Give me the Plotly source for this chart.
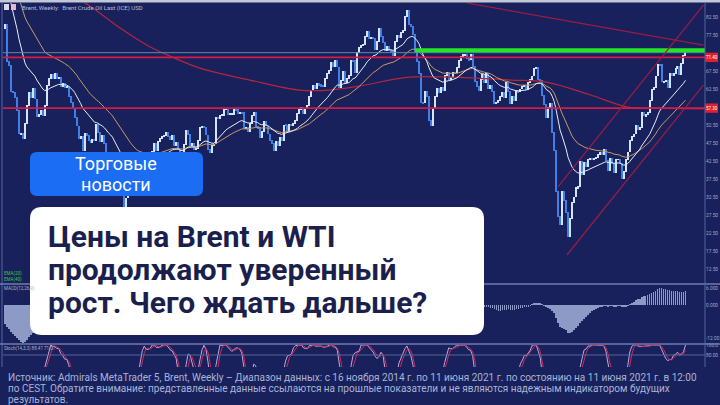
import plotly.graph_objects as go
import pandas as pd
import numpy as np

W, H = 720, 405
BG = "#18215c"

# ---- data: Brent weekly closes (USD) ----
# warm-up weeks (May-Nov 2014), used only for the indicators
pre_close = [108.0, 109.8, 110.5, 109.4, 108.6, 113.4, 114.8, 113.3, 110.6, 106.7,
             107.2, 108.4, 105.0, 105.0, 103.5, 102.3, 103.2, 100.8, 97.1, 98.4,
             97.0, 92.3, 90.2, 86.2, 86.1, 85.9, 83.4, 79.4]

close_2014 = [80.4, 70.2, 69.1, 61.9, 61.4, 60.2, 56.4]
close_2015 = [50.1, 50.2, 48.8, 53.0, 57.8, 61.5, 60.2, 62.6, 59.7, 54.7,
              55.3, 56.4, 55.0, 57.9, 63.5, 65.3, 66.5, 65.4, 66.8, 65.4,
              65.6, 63.3, 63.9, 63.0, 63.3, 60.3, 58.7, 57.1, 54.6, 52.2,
              48.6, 49.2, 45.5, 50.1, 49.6, 48.1, 47.5, 48.6, 48.1, 52.7,
              50.5, 48.0, 49.6, 47.4, 43.6, 44.7, 44.9, 43.0, 37.9, 36.9,
              38.1, 37.3]
close_2016 = [33.6, 28.9, 32.2, 34.7, 34.1, 33.4, 33.0, 35.1, 38.7, 40.4,
              41.2, 40.4, 38.7, 41.9, 43.1, 45.1, 47.4, 45.4, 47.8, 48.7,
              49.3, 49.6, 50.5, 49.2, 48.4, 49.7, 46.8, 47.6, 45.7, 42.5,
              44.3, 47.0, 50.9, 49.9, 46.8, 47.5, 45.8, 45.9, 48.2, 51.9,
              52.0, 51.8, 49.7, 45.6, 44.8, 46.9, 47.2, 54.5, 54.3, 55.2,
              55.2, 56.8]
close_2017 = [57.1, 55.5, 55.5, 55.5, 56.8, 56.7, 55.8, 56.0, 55.9, 51.4,
              51.8, 50.8, 52.8, 55.2, 55.9, 52.0, 51.7, 49.1, 50.8, 53.6,
              52.2, 50.0, 48.2, 47.4, 45.5, 47.9, 46.7, 48.9, 48.1, 52.5,
              52.4, 50.7, 52.7, 52.4, 52.8, 53.8, 55.6, 56.9, 57.5, 55.6,
              57.2, 57.8, 60.4, 62.1, 63.5, 62.7, 63.9, 63.7, 63.4, 63.2,
              65.3, 66.9]
close_2018 = [67.6, 69.9, 68.6, 70.5, 68.6, 62.8, 64.8, 67.3, 64.4, 65.5,
              66.2, 70.5, 70.3, 67.1, 72.6, 74.1, 74.6, 74.9, 77.1, 78.5,
              76.4, 76.8, 76.5, 73.4, 75.6, 79.4, 77.1, 75.3, 73.1, 74.3,
              73.2, 72.8, 71.8, 75.8, 77.4, 76.8, 78.1, 78.8, 82.7, 84.2,
              80.4, 79.8, 77.6, 72.8, 70.2, 66.8, 58.8, 58.7, 61.7, 60.3,
              53.8, 52.2, 57.1]
close_2019 = [60.5, 62.7, 61.6, 62.8, 62.1, 66.3, 67.1, 65.1, 65.7, 67.2,
              67.0, 68.4, 70.3, 71.6, 72.0, 72.2, 70.9, 70.6, 72.2, 68.7,
              64.5, 63.3, 62.0, 65.2, 66.6, 64.2, 66.7, 62.5, 63.5, 61.9,
              58.5, 58.6, 59.3, 60.4, 61.5, 60.2, 64.3, 61.9, 58.4, 60.5,
              59.4, 62.0, 61.7, 62.5, 63.3, 63.4, 62.4, 64.4, 65.2, 66.1,
              68.2, 68.6]
close_2020 = [65.0, 64.9, 60.7, 58.2, 54.5, 57.3, 58.5, 50.5, 45.3, 33.9,
              27.0, 24.9, 34.1, 31.5, 28.1, 21.4, 26.4, 31.0, 32.5, 35.1,
              35.3, 42.3, 38.7, 42.2, 41.0, 42.8, 43.2, 43.1, 43.3, 43.5,
              44.4, 44.8, 44.4, 45.8, 42.7, 39.8, 43.2, 41.9, 39.3, 42.9,
              42.9, 41.8, 37.5, 39.5, 42.8, 45.0, 48.2, 49.3, 50.0, 52.3,
              51.3, 51.8]
close_2021 = [56.0, 55.1, 55.4, 55.9, 59.3, 62.4, 62.9, 66.1, 69.4, 69.2,
              64.5, 64.6, 64.9, 63.0, 66.8, 66.1, 66.8, 68.3, 68.7, 66.4,
              69.6, 71.9, 72.7]

close = (close_2014 + close_2015 + close_2016 + close_2017 + close_2018
         + close_2019 + close_2020 + close_2021)

# long red moving average (week index, price)
ma_long_week = [0, 25, 42, 58, 73, 84, 98, 123, 148, 163, 178, 203, 224, 254, 272, 294, 313, 329, 351]
ma_long_val = [101, 91, 85.9, 79.5, 74.3, 71.5, 68.4, 65.1, 62.3, 62.3, 63.4, 65.9, 65.9, 65.1, 64.5, 61.0, 57.6, 57.3, 57.1]

# drawn levels and trend lines (week index, price)
level_red = [71.4, 57.3]
level_green = 73.4
level_green_from = 206
trend_down = [(232, 86.5), (351, 74.8)]
channel_up = [(277.9, 35.4), (351, 85.9)]
channel_low = [(282.4, 16.5), (351, 63.7)]
price_ticks = [12.5, 17.5, 22.5, 27.5, 32.5, 37.5, 42.5, 47.5, 52.5,
               62.5, 67.5, 77.5, 82.5]

# ---- indicators derived from the closes ----
full = pd.Series(pre_close + close, dtype=float)
n0 = len(pre_close)
ema_fast = full.ewm(span=20, adjust=False).mean().iloc[n0:].to_numpy()
ema_slow = full.ewm(span=40, adjust=False).mean().iloc[n0:].to_numpy()
macd = (full.ewm(span=12, adjust=False).mean()
        - full.ewm(span=26, adjust=False).mean()).iloc[n0:].to_numpy()
ll = full.rolling(14).min()
hh = full.rolling(14).max()
st_k = ((full - ll).rolling(3).sum() / (hh - ll).rolling(3).sum() * 100)
st_d = st_k.rolling(3).mean()
st_k = st_k.iloc[n0:].to_numpy()
st_d = st_d.iloc[n0:].to_numpy()

x = np.arange(len(close))
opens = [pre_close[-1]] + close[:-1]
highs = [max(o, c) for o, c in zip(opens, close)]
lows = [min(o, c) for o, c in zip(opens, close)]
bar_colors = ["#d4e4ff" if c >= o else "#3f7fe6" for o, c in zip(opens, close)]


def X(px):
    return px / W


def Y(py):
    return 1 - py / H


fig = go.Figure()
fig.add_trace(go.Bar(x=x, base=lows, y=[h - l + 0.25 for h, l in zip(highs, lows)], width=0.55,
                     marker=dict(color=bar_colors, line=dict(width=0)),
                     yaxis="y", showlegend=False, hoverinfo="skip"))
fig.add_trace(go.Scatter(x=ma_long_week, y=ma_long_val, mode="lines",
                         line=dict(color="#b3263c", width=1.2, shape="spline"),
                         yaxis="y", showlegend=False))
fig.add_trace(go.Scatter(x=x, y=ema_slow, mode="lines",
                         line=dict(color="#c99a62", width=1), yaxis="y", showlegend=False))
fig.add_trace(go.Scatter(x=x, y=ema_fast, mode="lines",
                         line=dict(color="#e9edf7", width=1), yaxis="y", showlegend=False))
# MACD histogram
fig.add_trace(go.Bar(x=x, y=macd, width=0.3, marker=dict(color="#8e9ac6", line=dict(width=0)),
                     yaxis="y2", showlegend=False))
# Stochastic
fig.add_trace(go.Scatter(x=x, y=st_k, mode="lines", line=dict(color="#c4a6e0", width=1),
                         yaxis="y3", showlegend=False))
fig.add_trace(go.Scatter(x=x, y=st_d, mode="lines", line=dict(color="#cf2a52", width=1),
                         yaxis="y3", showlegend=False))

shapes = []
# top strip & left border
shapes.append(dict(type="rect", xref="paper", yref="paper", x0=0, x1=1, y0=Y(2.5), y1=1,
                   fillcolor="#c3c8d6", line=dict(width=0), layer="above"))
shapes.append(dict(type="line", xref="paper", yref="paper", x0=X(2), x1=X(2), y0=Y(367), y1=Y(2.5),
                   line=dict(color="#5566a0", width=1), layer="above"))
# bid line
shapes.append(dict(type="line", xref="paper", yref="y", x0=X(3), x1=X(705), y0=close[-1], y1=close[-1],
                   line=dict(color="#5d8aa6", width=1)))
# red levels
for lv in level_red:
    shapes.append(dict(type="line", xref="paper", yref="y", x0=X(3), x1=X(705), y0=lv, y1=lv,
                       line=dict(color="#d21c46", width=1.6)))
# green level
shapes.append(dict(type="line", xref="x", yref="y", x0=level_green_from, x1=352, y0=level_green,
                   y1=level_green, line=dict(color="#25e625", width=4)))
# trend lines
for (p0, p1) in [trend_down, channel_up, channel_low]:
    shapes.append(dict(type="line", xref="x", yref="y", x0=p0[0], y0=p0[1], x1=p1[0], y1=p1[1],
                       line=dict(color="#9c1c40", width=1.2)))
# stochastic level
shapes.append(dict(type="line", xref="paper", yref="y3", x0=X(3), x1=X(705), y0=80, y1=80,
                   line=dict(color="#56649a", width=1)))
# panel separators
for py in [284, 344]:
    shapes.append(dict(type="line", xref="paper", yref="paper", x0=X(0), x1=1, y0=Y(py), y1=Y(py),
                       line=dict(color="#6f7cad", width=1.5), layer="above"))
# right axis line
shapes.append(dict(type="line", xref="paper", yref="paper", x0=X(705), x1=X(705), y0=Y(367), y1=Y(2.5),
                   line=dict(color="#55649c", width=1), layer="above"))
# red tags on axis
for lv in level_red:
    shapes.append(dict(type="rect", xref="paper", yref="y", x0=X(705), x1=X(718), y0=lv - 1.3,
                       y1=lv + 1.3, fillcolor="#e2202c", line=dict(width=0), layer="above"))
# icons
shapes.append(dict(type="rect", xref="paper", yref="paper", x0=X(4), x1=X(9), y0=Y(10), y1=Y(4),
                   fillcolor="#dcd8f0", line=dict(width=0), layer="above"))
shapes.append(dict(type="rect", xref="paper", yref="paper", x0=X(11), x1=X(16), y0=Y(10), y1=Y(4),
                   fillcolor="#e4b8d0", line=dict(width=0), layer="above"))
# footer overlay
shapes.append(dict(type="rect", xref="paper", yref="paper", x0=0, x1=1, y0=0, y1=Y(367),
                   fillcolor=BG, line=dict(width=0), layer="above"))


def rrect(x0, y0, x1, y1, r):
    return (f"M {X(x0 + r)},{Y(y0)} L {X(x1 - r)},{Y(y0)} Q {X(x1)},{Y(y0)} {X(x1)},{Y(y0 + r)} "
            f"L {X(x1)},{Y(y1 - r)} Q {X(x1)},{Y(y1)} {X(x1 - r)},{Y(y1)} "
            f"L {X(x0 + r)},{Y(y1)} Q {X(x0)},{Y(y1)} {X(x0)},{Y(y1 - r)} "
            f"L {X(x0)},{Y(y0 + r)} Q {X(x0)},{Y(y0)} {X(x0 + r)},{Y(y0)} Z")


shapes.append(dict(type="path", xref="paper", yref="paper", path=rrect(30, 152, 203, 196, 7),
                   fillcolor="#1b6ef3", line=dict(width=0), layer="above"))
shapes.append(dict(type="path", xref="paper", yref="paper", path=rrect(30, 207, 484, 335, 12),
                   fillcolor="#ffffff", line=dict(width=0), layer="above"))

ann = []


def txt(s, px, py, size, color, xanchor="left", family="Roboto", weight="normal"):
    ann.append(dict(text=s, x=X(px), y=Y(py), xref="paper", yref="paper", showarrow=False,
                    xanchor=xanchor, yanchor="middle",
                    font=dict(family=family, size=size, color=color, weight=weight)))


txt("Brent, Weekly:  Brent Crude Oil Last (ICE) USD", 20, 8, 6, "#b6bed8")
txt("EMA(20)", 2, 273, 4.5, "#3cc83c")
txt("EMA(40)", 2, 279, 4.5, "#3cc83c")
txt("MACD(12,26,9)", 2, 288, 4.5, "#aab2d0")
txt("Stoch(14,3,3) 88.41 71.07", 2, 348, 4.5, "#aab2d0")
for lv in level_red:
    ann.append(dict(text=f"{lv:.2f}", x=X(711.5), y=lv, xref="paper", yref="y", showarrow=False,
                    xanchor="center", yanchor="middle",
                    font=dict(family="Roboto", size=4.5, color="#ffffff")))
txt("Торговые", 116, 163, 18, "#ffffff", xanchor="center")
txt("новости", 116, 184, 18, "#ffffff", xanchor="center")
txt("Цены на Brent и WTI", 46, 237, 30, "#1b1f4d", weight=700)
txt("продолжают уверенный", 46, 269.5, 30, "#1b1f4d", weight=700)
txt("рост. Чего ждать дальше?", 46, 302, 30, "#1b1f4d", weight=700)
foot1 = ("Источник: Admirals MetaTrader 5, Brent, Weekly – Диапазон данных: с 16 ноября 2014 г. "
         "по 11 июня 2021 г. по состоянию на 11 июня 2021 г. в 12:00")
foot2 = ("по CEST. Обратите внимание: представленные данные ссылаются на прошлые показатели "
         "и не являются надежным индикатором будущих")
foot3 = "результатов."
txt(foot1, 6, 377, 10, "#aab4d6")
txt(foot2, 6, 388, 10, "#aab4d6")
txt(foot3, 6, 399, 10, "#aab4d6")

tickfont = dict(family="Roboto", size=4.8, color="#9ea8cc")
fig.update_layout(
    width=W, height=H, margin=dict(l=0, r=0, t=0, b=0),
    paper_bgcolor=BG, plot_bgcolor=BG, showlegend=False, bargap=0, barmode="overlay",
    xaxis=dict(domain=[X(3), X(705)], range=[-1, 351.8], showgrid=False, zeroline=False,
               showticklabels=False, anchor="y3", fixedrange=True),
    yaxis=dict(domain=[Y(283), Y(3)], range=[71.5 - (283 - 57) / 3.6, 71.5 + (57 - 3) / 3.6],
               side="right", anchor="x", showgrid=False, zeroline=False, tickvals=price_ticks,
               ticktext=[f"{v:.2f}" for v in price_ticks], tickfont=tickfont, ticks="",
               automargin=False),
    yaxis2=dict(domain=[Y(343), Y(285)], range=[-38 / 2.8, 20 / 2.8], side="right", anchor="x",
                showgrid=False, zeroline=False, tickvals=[6, 0, -12],
                ticktext=["6.000", "0.000", "-12.00"], tickfont=tickfont, ticks="", automargin=False),
    yaxis3=dict(domain=[Y(395), Y(345)], range=[0, 100], side="right", anchor="x",
                showgrid=False, zeroline=False, tickvals=[100, 80, 20],
                ticktext=["100.0", "80.00", "20.00"], tickfont=tickfont, ticks="", automargin=False),
    shapes=shapes, annotations=ann,
)

fig.write_html("out.html", config={"displayModeBar": False},
               post_script="document.body.style.margin='0px';document.body.style.padding='0px';")
